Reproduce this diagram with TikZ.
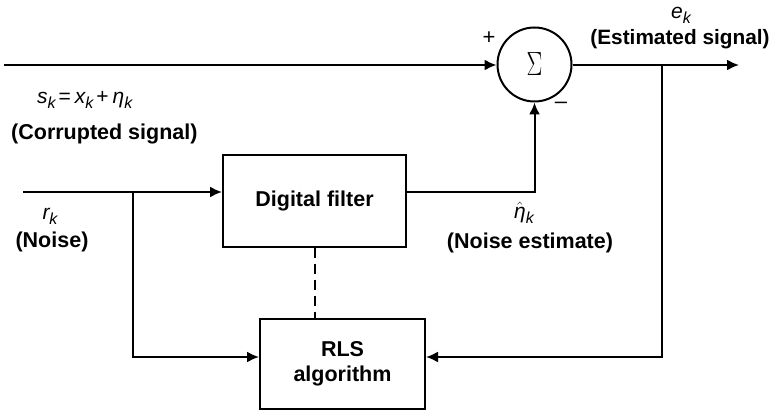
\documentclass[tikz,border=0pt]{standalone}
\usepackage{fontspec}
\setmainfont{Liberation Sans}
\usetikzlibrary{arrows.meta}

% italic symbol with a lowered italic index
\newcommand{\symk}[2]{{\itshape #1}\raisebox{-0.45ex}{\fontsize{16}{16}\selectfont\itshape #2}}

\begin{document}
\begin{tikzpicture}[x=1pt,y=-1pt,
  wire/.style={line width=2pt},
  flow/.style={wire,-{Latex[length=12pt,width=11pt]}},
  block/.style={draw,line width=2pt,rectangle,inner sep=0pt,font=\fontsize{21.5}{24}\selectfont\bfseries,align=center},
  lbl/.style={font=\fontsize{21.5}{24}\selectfont\bfseries,inner sep=0pt},
  sym/.style={font=\fontsize{21}{24}\selectfont,inner sep=0pt},
  sgn/.style={font=\fontsize{22}{22}\selectfont,inner sep=0pt}]
  \useasboundingbox (0,0) rectangle (772,411);

  % summing junction and the two blocks
  \node[draw,circle,line width=2pt,minimum size=74pt,inner sep=0pt,
        font=\fontsize{30}{30}\selectfont] (sum) at (534.5,64.5) {\scalebox{0.95}[1.35]{$\Sigma$}};
  \node[block,minimum width=183pt,minimum height=92pt] (filt) at (314.5,201) {Digital filter};
  \node[block,minimum width=165pt,minimum height=90pt] (rls) at (342.5,364) {RLS\\[1pt]algorithm};

  % end points and branch points
  \coordinate (sin) at (4,65);
  \coordinate (rin) at (23,192);
  \coordinate (rtap) at (133,192);
  \coordinate (eout) at (739,65);
  \coordinate (etap) at (662,65);

  % signal path
  \draw[flow] (sin) -- (sum.west |- sin);
  \draw[flow] (sum.east |- sin) -- (eout);
  \draw[flow] (rin) -- (rin -| filt.west);
  \draw[flow] (filt.east |- rin) -| (sum.south);
  \draw[flow] (rtap) |- (rls.west |- 0,357);
  \draw[flow] (etap) |- (rls.east |- 0,357);
  \draw[wire,dash pattern=on 10pt off 6pt] (filt.south) -- (rls.north -| filt.south);

  % signs at the junction
  \node[sgn] (plus) at (489,38) {+};
  \node[sgn] (minus) at (561,105) {\textendash};

  % labels
  \node[sym] (ek) at (681,15) {\symk{e}{k}};
  \node[lbl,font=\fontsize{20.8}{24}\selectfont\bfseries] (est) at (680,39) {(Estimated signal)};
  \node[sym,anchor=west] (sk) at (37,100) {\symk{s}{k}\hspace{3pt}=\hspace{4pt}\symk{x}{k}\hspace{3pt}+\hspace{4pt}\symk{η}{k}};
  \node[lbl,anchor=west] (corr) at (11,134) {(Corrupted signal)};
  \node[sym] (rk) at (50,216) {\symk{r}{k}};
  \node[lbl] (noise) at (52,242) {(Noise)};
  \node[sym] (etak) at (524,213) {\symk{$\hat{\hbox{\itshape η}}$}{k}};
  \node[lbl] (nest) at (530,243) {(Noise estimate)};
\end{tikzpicture}
\end{document}
